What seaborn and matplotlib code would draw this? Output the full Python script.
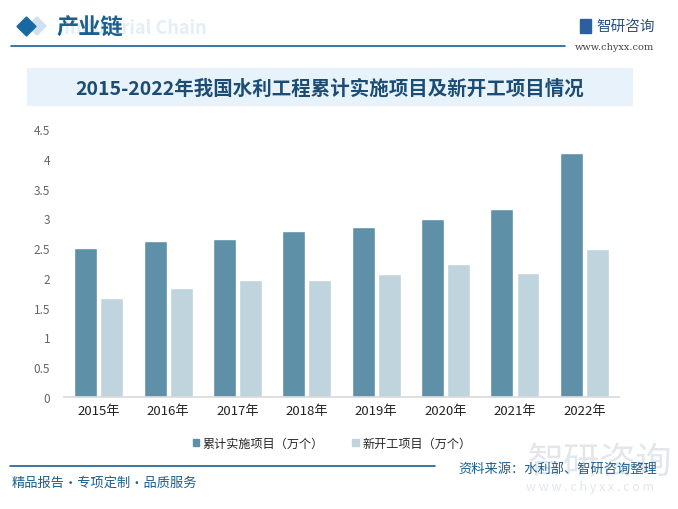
import pandas as pd
import matplotlib.pyplot as plt
import matplotlib.patches as mpatches
import seaborn as sns

sns.set_theme(style="white")
plt.rcParams['font.family'] = ['Noto Sans CJK SC', 'DejaVu Sans']

years = ['2015年', '2016年', '2017年', '2018年', '2019年', '2020年', '2021年', '2022年']
cumulative = [2.50, 2.62, 2.65, 2.79, 2.85, 2.99, 3.15, 4.09]
new_start = [1.66, 1.83, 1.96, 1.96, 2.06, 2.23, 2.08, 2.48]
series_names = ['累计实施项目（万个）', '新开工项目（万个）']

df = pd.DataFrame({
    '年份': years * 2,
    '数值': cumulative + new_start,
    '类别': [series_names[0]] * len(years) + [series_names[1]] * len(years),
})

colors = {series_names[0]: '#5e90a7', series_names[1]: '#bfd4dd'}
blue = '#1a5f8f'
W, H = 678, 510


def fx(px):
    return px / W


def fy(py):
    return 1 - py / H


def diamond(cx, cy, r, color):
    pts = [(fx(cx), fy(cy - r)), (fx(cx + r), fy(cy)), (fx(cx), fy(cy + r)), (fx(cx - r), fy(cy))]
    return mpatches.Polygon(pts, closed=True, transform=fig.transFigure, color=color)


fig = plt.figure(figsize=(6.78, 5.10), dpi=100)
ax = fig.add_axes([0.0944, 0.2196, 0.8186, 0.5255])

sns.barplot(data=df, x='年份', y='数值', hue='类别', palette=colors,
            width=0.75, gap=0.12, saturation=1, ax=ax, legend=False)

ax.set_ylim(0, 4.5)
ax.set_xlim(-0.5, 7.5)
ax.set_yticks([i * 0.5 for i in range(10)])
ax.set_yticklabels(['0', '0.5', '1', '1.5', '2', '2.5', '3', '3.5', '4', '4.5'])
ax.tick_params(axis='y', colors='#666666', labelsize=8.5, length=0, pad=10)
ax.tick_params(axis='x', colors='#222222', labelsize=9.5, length=0, pad=5)
ax.set_xlabel('')
ax.set_ylabel('')
for s in ['top', 'right', 'left']:
    ax.spines[s].set_visible(False)
ax.spines['bottom'].set_color('#d9d9d9')
ax.spines['bottom'].set_linewidth(1.2)
ax.set_facecolor('none')

# legend
handles = [mpatches.Patch(color=colors[n], label=n) for n in series_names]
fig.legend(handles=handles, loc='center', bbox_to_anchor=(fx(332), fy(444)), ncol=2,
           frameon=False, fontsize=8.7, handlelength=0.55, handleheight=0.55,
           handletextpad=0.3, columnspacing=2.3)

# title banner
fig.patches.append(mpatches.Rectangle((fx(27), fy(106)), fx(605), 37 / H,
                                      transform=fig.transFigure, color='#e7f2fa', zorder=0))
fig.text(fx(330), fy(89), '2015-2022年我国水利工程累计实施项目及新开工项目情况',
         ha='center', va='center', fontsize=14, fontweight='bold', color='#1b4c74')

# header
fig.text(fx(64), fy(29), 'Industrial Chain', ha='left', va='center',
         fontsize=13, fontweight='bold', color='#e3eef6')
fig.patches.append(diamond(37, 27, 9, '#cfe0ee'))
fig.patches.append(diamond(26.5, 27.5, 9.5, '#1769a3'))
fig.text(fx(56), fy(28), '产业链', ha='left', va='center',
         fontsize=16, fontweight='bold', color=blue)
fig.add_artist(plt.Line2D([fx(11), fx(565)], [fy(47), fy(47)],
                          transform=fig.transFigure, color=blue, linewidth=1.2))
fig.patches.append(mpatches.Rectangle((fx(580), fy(34)), 11 / W, 14 / H,
                                      transform=fig.transFigure, color='#2b5f9e'))
fig.text(fx(596), fy(27), '智研咨询', ha='left', va='center',
         fontsize=10.5, color='#2b4f8a')
fig.text(fx(575), fy(47), 'www.chyxx.com', ha='left', va='center',
         fontsize=7, color='#444444', family=['DejaVu Serif'])

# footer
fig.text(fx(600), fy(463), '智研咨询', ha='center', va='center',
         fontsize=26, color='#e3e7ec', zorder=-1)
fig.text(fx(590), fy(488), 'w w w . c h y x x . c o m', ha='center', va='center',
         fontsize=9, color='#e3e7ec', zorder=-1)
fig.add_artist(plt.Line2D([fx(10), fx(435)], [fy(467), fy(467)],
                          transform=fig.transFigure, color=blue, linewidth=1.2))
fig.text(fx(657), fy(469), '资料来源：水利部、智研咨询整理', ha='right', va='center',
         fontsize=9.5, color=blue)
fig.text(fx(12), fy(483), '精品报告・专项定制・品质服务', ha='left', va='center',
         fontsize=9.5, color=blue)

fig.savefig('out.png', dpi=100)
